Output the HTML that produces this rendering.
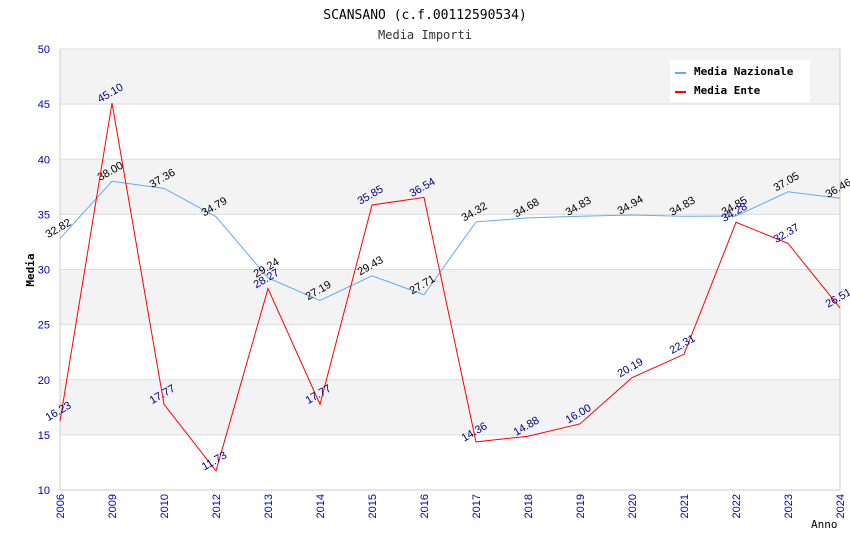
<!DOCTYPE html>
<html><head><meta charset="utf-8"><style>body{margin:0;background:#fff}svg{display:block}</style></head><body>
<svg id="c" width="850" height="550" xmlns="http://www.w3.org/2000/svg">
<text x="425" y="19" text-anchor="middle" font-family="DejaVu Sans Mono, monospace" font-size="13" fill="#000">SCANSANO (c.f.00112590534)</text>
<text x="425" y="39" text-anchor="middle" font-family="DejaVu Sans Mono, monospace" font-size="12" fill="#333">Media Importi</text>
<g id="bands"></g><g id="axes"></g><g id="series"></g>
<g>
<rect x="670" y="60" width="140" height="42" fill="#fff"/>
<line x1="675" y1="73" x2="686" y2="73" stroke="#66aaee" stroke-width="2"/>
<text x="694" y="75" font-family="DejaVu Sans Mono, monospace" font-size="11" font-weight="bold">Media Nazionale</text>
<line x1="675" y1="92" x2="686" y2="92" stroke="#ff0000" stroke-width="2"/>
<text x="694" y="94" font-family="DejaVu Sans Mono, monospace" font-size="11" font-weight="bold">Media Ente</text>
</g>
<text transform="translate(34,270) rotate(-90)" text-anchor="middle" font-family="DejaVu Sans Mono, monospace" font-size="11" font-weight="bold">Media</text>
<text x="811" y="528" font-family="DejaVu Sans Mono, monospace" font-size="11">Anno</text>
</svg>
<script>
const categories=["2006","2009","2010","2012","2013","2014","2015","2016","2017","2018","2019","2020","2021","2022","2023","2024"];
const nazionale=[32.82,38.00,37.36,34.79,29.24,27.19,29.43,27.71,34.32,34.68,34.83,34.94,34.83,34.85,37.05,36.46];
const ente=[16.23,45.10,17.77,11.73,28.27,17.77,35.85,36.54,14.36,14.88,16.00,20.19,22.31,34.28,32.37,26.51];
const yTicks=[10,15,20,25,30,35,40,45,50];
const NS="http://www.w3.org/2000/svg";
const L=60,R=840,T=49,B=490,ymin=10,ymax=50;
const xs=i=>L+i*(R-L)/(categories.length-1);
const ys=v=>B-(v-ymin)/(ymax-ymin)*(B-T);
function mk(t,a,p){const e=document.createElementNS(NS,t);for(const k in a)e.setAttribute(k,a[k]);p.appendChild(e);return e;}
const bands=document.getElementById('bands'),axes=document.getElementById('axes'),series=document.getElementById('series');
for(let i=0;i<yTicks.length-1;i++){
  const r=mk('rect',{x:L,y:ys(yTicks[i+1]),width:R-L,height:ys(yTicks[i])-ys(yTicks[i+1]),fill:(i%2==1)?'#f3f3f3':'#ffffff'},bands);
  
  
}
yTicks.forEach(v=>{
  const l=mk('line',{x1:L,x2:R,y1:ys(v),y2:ys(v),stroke:'#dddddd'},axes);
  
  
  const t=mk('text',{x:L-10,y:ys(v)+4,'text-anchor':'end','font-family':'Liberation Sans, sans-serif','font-size':'11',fill:'#0000cc'},axes);
  t.textContent=v;
  
  
});
mk('line',{x1:L,x2:L,y1:T,y2:B,stroke:'#cccccc'},axes);
mk('line',{x1:R,x2:R,y1:T,y2:B,stroke:'#cccccc'},axes);
mk('line',{x1:L,x2:R,y1:B,y2:B,stroke:'#cccccc'},axes);
categories.forEach((c,i)=>{
  const t=mk('text',{transform:`translate(${xs(i)+4},${B+4}) rotate(-90)`,'text-anchor':'end','font-family':'Liberation Sans, sans-serif','font-size':'11',fill:'#0000cc'},axes);
  t.textContent=c;
  
  
});
function draw(vals,color,lab,name){
  const p=mk('polyline',{points:vals.map((v,i)=>xs(i)+','+ys(v)).join(' '),fill:'none',stroke:color,'stroke-width':'1'},series);
  
  
  vals.forEach((v,i)=>{
    const t=mk('text',{transform:`translate(${xs(i)},${ys(v)-7}) rotate(-30)`,'text-anchor':'middle','font-family':'Liberation Sans, sans-serif','font-size':'11',fill:lab},series);
    t.textContent=v.toFixed(2);
    
    
  });
}
draw(nazionale,'#66aaee','#000000','nazionale');
draw(ente,'#ff0000','#000088','ente');
</script>
</body></html>
